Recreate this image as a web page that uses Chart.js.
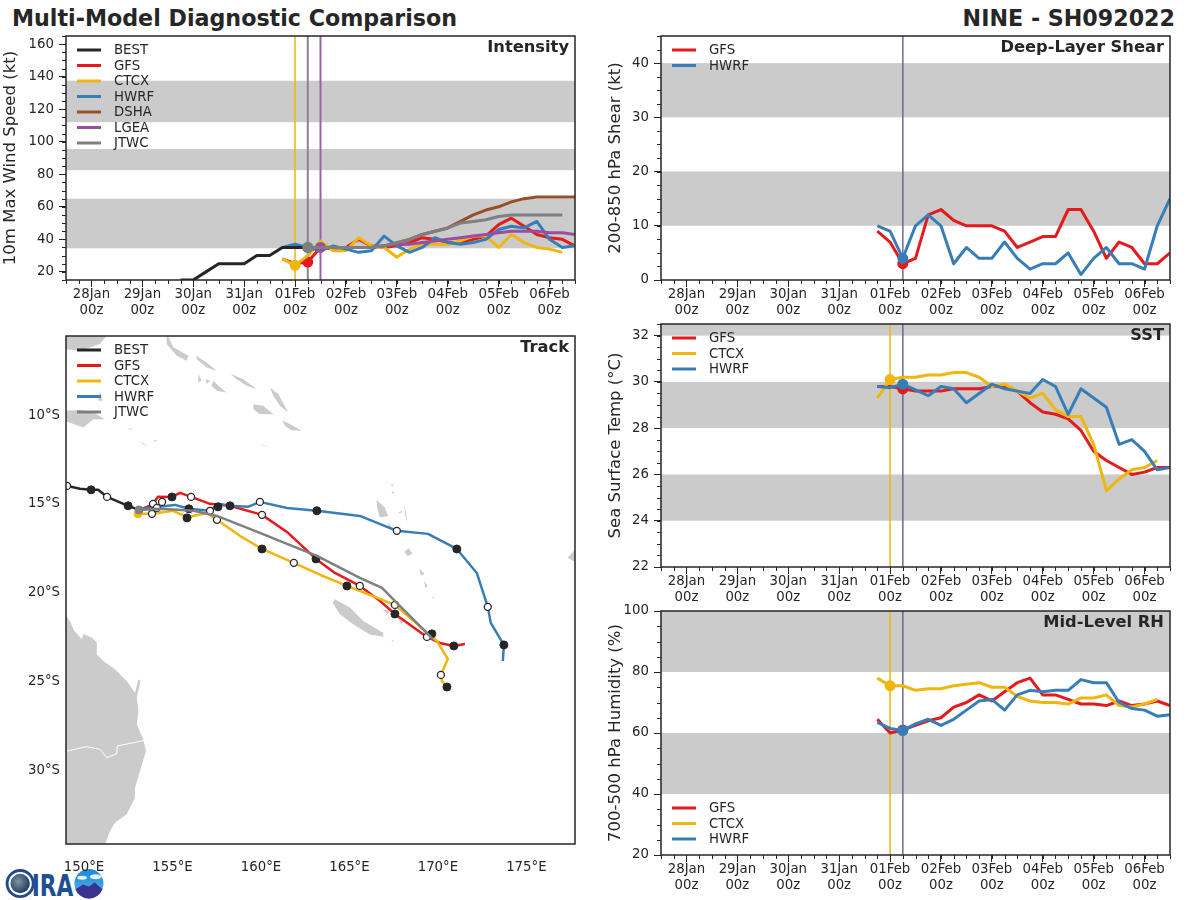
<!DOCTYPE html>
<html>
<head>
<meta charset="utf-8">
<title>Multi-Model Diagnostic Comparison</title>
<script src="https://cdn.jsdelivr.net/npm/chart.js@4/dist/chart.umd.min.js"></script>
<style>
    html, body { margin: 0; padding: 0; background: #fff; }
    body { position: relative; width: 1200px; height: 900px; overflow: hidden; font-family: "DejaVu Sans", sans-serif; color: #262626; }
    canvas { position: absolute; z-index: 1; }
    .head { position: absolute; top: 5px; font-weight: bold; font-size: 22.2px; line-height: 26px; white-space: nowrap; }
    #logo { position: absolute; left: 4px; top: 868px; z-index: 0; }
</style>
</head>
<body>
<div class="head" style="left:12px">Multi-Model Diagnostic Comparison</div>
<div class="head" style="right:25px">NINE - SH092022</div>
<canvas id="intensityChart" style="left:0;top:26px" width="590" height="296"></canvas>
<canvas id="shearChart" style="left:605px;top:26px" width="580" height="296"></canvas>
<canvas id="trackChart" style="left:0;top:326px" width="590" height="553"></canvas>
<canvas id="sstChart" style="left:605px;top:314px" width="580" height="295"></canvas>
<canvas id="rhChart" style="left:605px;top:601px" width="580" height="296"></canvas>
<svg id="logo" width="104" height="31" viewBox="0 0 104 32">
    <defs>
        <radialGradient id="globe" cx="0.4" cy="0.4" r="0.7"><stop offset="0" stop-color="#7f93a0"/><stop offset="1" stop-color="#16305f"/></radialGradient>
        <linearGradient id="sky" x1="0" y1="0" x2="0" y2="1"><stop offset="0" stop-color="#1b8ad8"/><stop offset="1" stop-color="#58b4e8"/></linearGradient>
    </defs>
    <circle cx="15" cy="16" r="13.5" fill="none" stroke="#24488c" stroke-width="3"/>
    <circle cx="15" cy="16" r="10" fill="url(#globe)"/>
    <text x="27" y="29" font-family="DejaVu Sans" font-weight="bold" font-size="31" textLength="43" lengthAdjust="spacingAndGlyphs" fill="#1d4f92">IRA</text>
    <circle cx="86" cy="16" r="15" fill="url(#sky)"/>
    <path d="M72 22 L80 17 L86 19 L92 15 L100 22 A15 15 0 0 1 72 22 Z" fill="#37338f"/>
    <ellipse cx="93" cy="9" rx="6" ry="2.5" fill="#e8f2fa"/>
    <ellipse cx="79" cy="10" rx="5" ry="2" fill="#e8f2fa"/>
</svg>

<script>
// hours since 28Jan 00z
const tickHours = [0, 24, 48, 72, 96, 120, 144, 168, 192, 216];
const tickDays = ['28Jan', '29Jan', '30Jan', '31Jan', '01Feb', '02Feb', '03Feb', '04Feb', '05Feb', '06Feb'];
const forecastHours = [90, 96, 102, 108, 114, 120, 126, 132, 138, 144, 150, 156, 162, 168, 174, 180, 186, 192, 198, 204, 210, 216, 222, 228];
const bestHours = [42, 48, 54, 60, 66, 72, 78, 84, 90, 96, 102];

// Intensity
const bestWind = [15, 15, 20, 25, 25, 25, 30, 30, 35, 35, 35];
const gfsWind = [28, 25, 26, 35, 34, 35, 40, 36, 35, 36, 38, 41, 40, 38, 38, 40, 42, 49, 53, 48, 43, 41, 40, 36];
const ctcxWind = [28, 24, 30, 39, 33, 33, 41, 36, 35, 29, 34, 37, 37, 37, 39, 42, 42, 35, 43, 38, 35, 34, 32];
const hwrfWind = [35, 37, 35, 33, 36, 34, 32, 33, 42, 36, 32, 35, 41, 38, 37, 38, 40, 46, 48, 47, 51, 40, 35, 36];
const dshaHours = [102, 108, 114, 120, 126, 132, 138, 144, 150, 156, 162, 168, 174, 180, 186, 192, 198, 204, 210, 216, 222, 228];
const dshaWind = [35, 35, 35, 35, 35, 35, 36, 38, 40, 43, 45, 47, 51, 55, 58, 60, 63, 65, 66, 66, 66, 66];
const lgeaHours = [108, 114, 120, 126, 132, 138, 144, 150, 156, 162, 168, 174, 180, 186, 192, 198, 204, 210, 216, 222, 228];
const lgeaWind = [35, 35, 35, 35, 35, 36, 37, 37, 38, 39, 40, 41, 42, 43, 44, 45, 45, 45, 44, 44, 43];
const jtwcHours = [102, 108, 114, 120, 126, 132, 138, 144, 150, 156, 162, 168, 174, 180, 186, 192, 198, 204, 210, 216, 222];
const jtwcWind = [35, 35, 35, 35, 35, 35, 36, 38, 40, 43, 45, 47, 50, 51, 52, 54, 55, 55, 55, 55, 55];

// Deep-layer shear
const gfsShear = [9, 7, 3, 4, 12, 13, 11, 10, 10, 10, 9, 6, 7, 8, 8, 13, 13, 9, 4, 7, 6, 3, 3, 5];
const hwrfShear = [10, 9, 4, 10, 12, 10, 3, 6, 4, 4, 7, 4, 2, 3, 3, 5, 1, 4, 6, 3, 3, 2, 10, 15];

// SST
const gfsSst = [29.8, 29.8, 29.7, 29.6, 29.6, 29.6, 29.7, 29.7, 29.7, 29.8, 29.8, 29.6, 29.1, 28.7, 28.6, 28.4, 27.9, 27.0, 26.6, 26.3, 26.0, 26.1, 26.3, 26.3];
const ctcxSst = [29.3, 30.1, 30.2, 30.2, 30.3, 30.3, 30.4, 30.4, 30.2, 29.8, 29.9, 29.6, 29.3, 29.5, 28.8, 28.5, 28.5, 27.3, 25.3, 25.8, 26.2, 26.3, 26.6];
const hwrfSst = [29.8, 29.75, 29.9, 29.65, 29.4, 29.8, 29.7, 29.1, 29.5, 29.9, 29.7, 29.6, 29.5, 30.1, 29.8, 28.6, 29.7, 29.3, 28.9, 27.3, 27.5, 27.0, 26.2, 26.3];

// Mid-level RH
const gfsRh = [64.5, 60, 61, 62.5, 64, 65, 68.5, 70, 72.5, 70.5, 73.5, 76.5, 78, 72.5, 72.5, 71, 69.5, 69.5, 69, 70.5, 69, 69.5, 70.5, 69];
const ctcxRh = [78, 75.5, 75.5, 74, 74.5, 74.5, 75.5, 76, 76.5, 75, 75, 72, 70.5, 70, 70, 69.5, 71.5, 71.5, 72.5, 69, 68.5, 69.5, 71];
const hwrfRh = [63.5, 61.5, 60.8, 63, 64.5, 62.5, 64.5, 67.5, 70.5, 71, 67.5, 72.5, 74, 73.5, 74, 74, 77.5, 76.5, 76.5, 70, 68, 67.5, 65.5, 66];

// Track lines, degrees east and north
const bestLon = [149.0, 149.77, 150.4, 150.8, 151.3, 152.49, 153.11];
const bestLat = [-13.98, -14.15, -14.21, -14.21, -14.61, -15.11, -15.34];
const gfsLon = [153.11, 153.56, 153.9, 154.18, 154.97, 155.42, 156.05, 157.12, 158.25, 160.06, 161.53, 163.11, 164.18, 165.59, 166.72, 167.57, 169.38, 170.11, 170.9, 171.53];
const gfsLat = [-15.34, -15.17, -15, -14.6, -14.61, -14.38, -14.61, -15, -15.11, -15.62, -16.63, -18.1, -18.89, -19.62, -20.46, -21.2, -22.49, -22.83, -23, -22.89];
const ctcxLon = [153.05, 153.84, 155.03, 155.93, 156.16, 156.95, 157.51, 158.81, 160.06, 161.86, 163.33, 164.86, 166.44, 167.57, 169.94, 170.56, 170.17, 170.23, 170.51];
const ctcxLat = [-15.56, -15.56, -15.39, -15.79, -15.68, -15.51, -15.9, -16.8, -17.54, -18.32, -18.99, -19.62, -20.24, -20.69, -22.72, -23.73, -24.63, -24.97, -25.31];
const hwrfLon = [153.11, 153.56, 155.14, 155.93, 157.12, 157.57, 158.25, 159.27, 159.94, 161.47, 163.16, 165.59, 167.68, 169.44, 171.07, 172.2, 172.82, 172.99, 173.73, 173.67];
const hwrfLat = [-15.34, -15.23, -15.06, -15.28, -15.39, -15, -15.11, -15.17, -14.89, -15.23, -15.39, -15.68, -16.52, -16.69, -17.54, -18.89, -20.8, -21.7, -22.94, -23.85];
const jtwcLon = [153.11, 154.33, 156.2, 157.51, 159.94, 161.47, 163.16, 165.59, 166.84, 167.68, 169.72];
const jtwcLat = [-15.34, -15.28, -15.39, -15.68, -16.63, -17.25, -17.93, -19.17, -19.73, -20.58, -22.61];

// Track markers: 00z filled, 12z open
const filledLon = [150.4, 152.49, 154.97, 155.93, 155.82, 157.57, 158.25, 160.06, 163.16, 163.11, 164.86, 167.57, 169.66, 171.07, 170.9, 173.73, 170.51];
const filledLat = [-14.21, -15.11, -14.61, -15.28, -15.79, -15.17, -15.11, -17.54, -15.39, -18.1, -19.62, -21.2, -22.32, -17.54, -23, -22.94, -25.31];
const openLon = [149.04, 151.3, 153.9, 154.12, 154.41, 153.84, 156.05, 157.12, 157.51, 159.94, 160.06, 161.86, 165.59, 167.68, 167.57, 169.38, 170.17, 172.82];
const openLat = [-13.99, -14.61, -15, -15.23, -14.89, -15.56, -14.61, -15.39, -15.9, -14.89, -15.62, -18.32, -19.62, -16.52, -20.69, -22.49, -24.63, -20.8];

// Land outlines, [lon, lat]
const landShapes = [
    [[148.9, -21.31], [149.02, -21.31], [149.25, -21.69], [149.44, -22.15], [149.87, -22.62], [149.96, -22.33], [150.43, -22.53], [150.72, -22.81], [150.72, -23.47], [151.09, -23.85], [151.75, -24.31], [152.41, -24.97], [152.88, -25.63], [153.07, -24.88], [153.2, -24.97], [152.98, -25.91], [153.07, -26.66], [152.98, -27.41], [153.35, -28.26], [153.5, -28.92], [153.16, -30.04], [152.88, -30.98], [152.88, -31.54], [152.41, -32.48], [151.75, -32.95], [151.47, -33.42], [151.13, -34.3], [148.9, -34.3]],
    [[164.18, -20.37], [165.03, -20.84], [165.78, -21.59], [166.91, -22.25], [166.91, -22.48], [166.15, -22.35], [165.21, -21.78], [164.46, -21.22], [164.05, -20.56]],
    [[166.54, -14.79], [167, -15.21], [167.19, -15.68], [166.72, -15.77], [166.57, -15.21]],
    [[167.36, -13.85], [167.5, -13.95], [167.4, -14.02]],
    [[167.38, -14.3], [167.55, -14.36], [167.42, -14.44]],
    [[168.1, -15], [168.2, -15.5], [168.28, -16.05], [168.14, -15.6]],
    [[167.7, -15.55], [167.95, -15.38], [167.95, -15.5]],
    [[167.19, -16.05], [167.47, -16.43], [167.2, -16.3]],
    [[168.1, -17.7], [168.35, -17.5], [168.55, -17.8], [168.3, -17.95]],
    [[168.95, -18.65], [169.25, -18.95], [169.05, -19.05]],
    [[169.22, -19.35], [169.42, -19.6], [169.3, -19.75]],
    [[169.66, -20.22], [169.8, -20.26], [169.72, -20.33]],
    [[167.38, -22.66], [167.5, -22.7], [167.42, -22.78]],
    [[166.85, -20.9], [167.3, -21.05], [167.15, -21.2]],
    [[167.75, -21.45], [168.1, -21.5], [167.95, -21.8]],
    [[177.34, -18.04], [177.9, -17.4], [177.9, -18.35]],
    [[148.93, -5.4], [151.37, -5.4], [150.9, -6], [149.77, -6.38], [148.93, -6.29]],
    [[154.67, -5.4], [155.05, -6.19], [155.9, -6.66], [155.8, -6.94], [155.24, -6.66], [154.67, -6]],
    [[156.33, -6.66], [156.93, -7.04], [157.5, -7.51], [156.93, -7.32], [156.37, -6.85]],
    [[158.25, -7.66], [159, -7.98], [159.75, -8.54], [159.19, -8.35], [158.63, -7.98]],
    [[156.46, -7.7], [156.65, -8.07], [156.46, -8.17]],
    [[156.89, -7.98], [157.12, -8.07], [156.93, -8.26]],
    [[157.31, -8.07], [157.59, -8.35], [158.06, -8.73], [157.5, -8.63], [157.21, -8.35]],
    [[160.5, -8.45], [160.98, -8.82], [161.54, -9.85], [161.07, -9.48], [160.7, -8.92]],
    [[159.57, -9.39], [160.13, -9.48], [160.7, -9.95], [159.94, -9.95], [159.57, -9.67]],
    [[161.22, -10.29], [161.83, -10.61], [162.3, -10.89], [161.73, -10.85], [161.36, -10.61]],
    [[148.9, -9.76], [149.77, -9.72], [150.53, -9.85], [151.19, -10.23], [150.53, -10.23], [149.96, -10.7], [149.4, -10.51], [148.9, -10.32]],
    [[150.9, -8.63], [151.05, -9.2], [150.81, -9.2]],
    [[153.07, -11.45], [153.63, -11.73], [153.35, -11.64]],
    [[153.92, -11.41], [154.2, -11.45], [154.01, -11.51]],
    [[159.94, -11.6], [160.5, -11.86], [160.13, -11.73]],
    [[152.41, -10.74], [152.79, -10.79], [152.6, -10.83]]
];
const borderLine = [[149.02, -28.92], [150.15, -28.67], [150.9, -28.82], [151.28, -29.29], [151.85, -29.07], [151.88, -28.63], [152.79, -28.45], [153.45, -28.31]];

const INK = '#262626';
const BAND = '#cbcbcb';
const BLACK = '#262626', RED = '#e41a1c', GOLD = '#efb60e', BLUE = '#377eb8', BROWN = '#964f28', PURPLE = '#984ea3', GRAY = '#7f7f7f';

Chart.defaults.font.family = '"DejaVu Sans", sans-serif';
Chart.defaults.font.size = 13.3;
Chart.defaults.color = INK;

const panelPlugin = {
    id: 'panel',
    beforeDatasetsDraw(chart, args, o) {
        const { ctx, chartArea: a, scales: { x, y } } = chart;
        ctx.save();
        ctx.beginPath();
        ctx.rect(a.left, a.top, a.width, a.height);
        ctx.clip();
        ctx.fillStyle = BAND;
        (o.bands || []).forEach(b => {
            const top = y.getPixelForValue(b[1]);
            ctx.fillRect(a.left, top, a.width, y.getPixelForValue(b[0]) - top);
        });
        (o.land || []).forEach(shape => {
            ctx.beginPath();
            shape.forEach((p, i) => ctx[i ? 'lineTo' : 'moveTo'](x.getPixelForValue(p[0]), y.getPixelForValue(p[1])));
            ctx.closePath();
            ctx.fill();
        });
        if (o.border) {
            ctx.strokeStyle = '#fff';
            ctx.lineWidth = 1;
            ctx.beginPath();
            o.border.forEach((p, i) => ctx[i ? 'lineTo' : 'moveTo'](x.getPixelForValue(p[0]), y.getPixelForValue(p[1])));
            ctx.stroke();
        }
        ctx.restore();
    },
    afterDraw(chart, args, o) {
        const { ctx, chartArea: a, scales: { x, y } } = chart;
        ctx.save();
        ctx.strokeStyle = INK;
        // minor ticks
        ctx.lineWidth = 1;
        ctx.beginPath();
        if (o.minorX) {
            for (let v = x.min; v <= x.max; v += o.minorX) {
                const px = Math.round(x.getPixelForValue(v)) + 0.5;
                ctx.moveTo(px, a.bottom);
                ctx.lineTo(px, a.bottom + 4);
            }
        }
        if (o.minorY) {
            for (let v = Math.ceil(y.min / o.minorY) * o.minorY; v <= y.max; v += o.minorY) {
                const py = Math.round(y.getPixelForValue(v)) + 0.5;
                ctx.moveTo(a.left, py);
                ctx.lineTo(a.left - 4, py);
            }
        }
        ctx.stroke();
        // frame
        ctx.lineWidth = 1.5;
        ctx.strokeRect(a.left, a.top, a.width, a.height);
        // panel name
        ctx.fillStyle = INK;
        ctx.textAlign = 'right';
        ctx.textBaseline = 'middle';
        ctx.font = 'bold 16.3px "DejaVu Sans"';
        ctx.fillText(o.name, a.right - 6, a.top + 12);
        // legend
        ctx.font = '13.3px "DejaVu Sans"';
        ctx.textAlign = 'left';
        const first = o.legendBottom ? a.bottom - 47 : a.top + 14;
        o.legend.forEach((item, i) => {
            const rowY = first + i * 15.5;
            ctx.strokeStyle = item[1];
            ctx.lineWidth = 3;
            ctx.beginPath();
            ctx.moveTo(a.left + 11, rowY);
            ctx.lineTo(a.left + 35, rowY);
            ctx.stroke();
            ctx.fillStyle = INK;
            ctx.fillText(item[0], a.left + 48, rowY + 1);
        });
        ctx.restore();
    }
};

function xy(xs, ys) {
    return ys.map((v, i) => ({ x: xs[i], y: v }));
}

// model line with a dot at its start hour
function modelLine(hours, values, color, startHour) {
    return {
        data: xy(hours, values),
        showLine: true,
        borderColor: color,
        backgroundColor: color,
        borderWidth: 3,
        borderJoinStyle: 'round',
        pointRadius: c => (c.parsed.x === startHour ? 4 : 0),
        pointHoverRadius: 0
    };
}

function startLine(hour, color, width, yMin, yMax) {
    return {
        data: xy([hour, hour], [yMin, yMax]),
        showLine: true,
        borderColor: color,
        borderWidth: width,
        pointRadius: 0
    };
}

// GFS and HWRF both start at the same hour, the lines mix
function mixedStart(yMin, yMax) {
    return [
        startLine(102, 'rgba(228,26,28,0.6)', 1.5, yMin, yMax),
        startLine(102, 'rgba(55,126,184,0.7)', 1.5, yMin, yMax)
    ];
}

// stop the label overhang from moving the plot area
function fitY(width) {
    return s => { s.width = width; s.paddingTop = 0; s.paddingBottom = 0; };
}
function fitX(height) {
    return s => { s.height = height; s.paddingLeft = 0; s.paddingRight = 0; };
}

function seriesChart(id, cfg) {
    const yTicks = cfg.yTicks;
    const datasets = cfg.datasets.map((d, i) => Object.assign({ order: -i }, d));
    return new Chart(document.getElementById(id), {
        type: 'scatter',
        data: { datasets },
        options: {
            responsive: false,
            animation: false,
            layout: { padding: { top: 10, right: 15, bottom: 0, left: 0 } },
            plugins: {
                legend: { display: false },
                tooltip: { enabled: false },
                panel: cfg.panel
            },
            scales: {
                x: {
                    type: 'linear',
                    min: -12,
                    max: 228,
                    afterBuildTicks: s => { s.ticks = tickHours.map(v => ({ value: v })); },
                    afterFit: fitX(42),
                    border: { display: false },
                    grid: { drawOnChartArea: false, tickLength: 7, tickColor: INK },
                    ticks: {
                        autoSkip: false,
                        maxRotation: 0,
                        padding: 0,
                        callback: v => [tickDays[tickHours.indexOf(v)], '00z']
                    }
                },
                y: {
                    min: cfg.yMin,
                    max: cfg.yMax,
                    afterBuildTicks: s => { s.ticks = yTicks.map(v => ({ value: v })); },
                    afterFit: fitY(cfg.yWidth || 56),
                    border: { display: false },
                    grid: { drawOnChartArea: false, tickLength: 7, tickColor: INK },
                    ticks: { padding: 5, callback: v => String(v) },
                    title: { display: true, text: cfg.yTitle, font: { size: 16.5 }, color: INK, padding: { top: 1, bottom: 0 } }
                }
            }
        },
        plugins: [panelPlugin]
    });
}

// Intensity
const windYTicks = [20, 40, 60, 80, 100, 120, 140, 160];
const windBands = [[34.5, 65], [82.5, 95.5], [112, 137.5]];
seriesChart('intensityChart', {
    yMin: 15, yMax: 165, yTicks: windYTicks, yWidth: 66,
    yTitle: '10m Max Wind Speed (kt)',
    panel: {
        name: 'Intensity', bands: windBands, minorX: 6, minorY: 5,
        legend: [['BEST', BLACK], ['GFS', RED], ['CTCX', GOLD], ['HWRF', BLUE], ['DSHA', BROWN], ['LGEA', PURPLE], ['JTWC', GRAY]]
    },
    datasets: [
        startLine(96, GOLD, 1.5, 15, 165),
        startLine(102, '#8c8590', 2, 15, 165),
        startLine(108, '#9a62a8', 2, 15, 165),
        modelLine(forecastHours, gfsWind, RED, 102),
        modelLine(forecastHours, ctcxWind, GOLD, 96),
        modelLine(forecastHours, hwrfWind, BLUE, 102),
        modelLine(dshaHours, dshaWind, BROWN, -1),
        modelLine(bestHours, bestWind, BLACK, -1),
        modelLine(lgeaHours, lgeaWind, PURPLE, 108),
        modelLine(jtwcHours, jtwcWind, GRAY, 102)
    ]
});

// Deep-layer shear
seriesChart('shearChart', {
    yMin: 0, yMax: 45, yTicks: [0, 10, 20, 30, 40],
    yTitle: '200-850 hPa Shear (kt)',
    panel: {
        name: 'Deep-Layer Shear', bands: [[10, 20], [30, 40]], minorX: 6, minorY: 2.5,
        legend: [['GFS', RED], ['HWRF', BLUE]]
    },
    datasets: [
        ...mixedStart(0, 45),
        modelLine(forecastHours, gfsShear, RED, 102),
        modelLine(forecastHours, hwrfShear, BLUE, 102)
    ]
});

// SST
seriesChart('sstChart', {
    yMin: 22, yMax: 32.5, yTicks: [22, 24, 26, 28, 30, 32],
    yTitle: 'Sea Surface Temp (°C)',
    panel: {
        name: 'SST', bands: [[24, 26], [28, 30], [32, 32.5]], minorX: 6, minorY: 0.5,
        legend: [['GFS', RED], ['CTCX', GOLD], ['HWRF', BLUE]]
    },
    datasets: [
        startLine(96, GOLD, 1.5, 22, 32.5),
        ...mixedStart(22, 32.5),
        modelLine(forecastHours, gfsSst, RED, 102),
        modelLine(forecastHours, ctcxSst, GOLD, 96),
        modelLine(forecastHours, hwrfSst, BLUE, 102)
    ]
});

// Mid-level RH
seriesChart('rhChart', {
    yMin: 20, yMax: 100, yTicks: [20, 40, 60, 80, 100],
    yTitle: '700-500 hPa Humidity (%)',
    panel: {
        name: 'Mid-Level RH', bands: [[40, 60], [80, 100]], minorX: 6, minorY: 5, legendBottom: true,
        legend: [['GFS', RED], ['CTCX', GOLD], ['HWRF', BLUE]]
    },
    datasets: [
        startLine(96, GOLD, 1.5, 20, 100),
        ...mixedStart(20, 100),
        modelLine(forecastHours, gfsRh, RED, 102),
        modelLine(forecastHours, ctcxRh, GOLD, 96),
        modelLine(forecastHours, hwrfRh, BLUE, 102)
    ]
});

// Track map
function trackLine(lon, lat, color, width) {
    return {
        data: xy(lon, lat),
        showLine: true,
        borderColor: color,
        backgroundColor: color,
        borderWidth: width,
        borderJoinStyle: 'round',
        pointRadius: 0
    };
}

const lonTicks = [150, 155, 160, 165, 170, 175];
const latTicks = [-30, -25, -20, -15, -10];
new Chart(document.getElementById('trackChart'), {
    type: 'scatter',
    data: {
        datasets: [
            trackLine(bestLon, bestLat, BLACK, 2.5),
            trackLine(gfsLon, gfsLat, RED, 2.5),
            trackLine(ctcxLon, ctcxLat, GOLD, 2.5),
            trackLine(hwrfLon, hwrfLat, BLUE, 2.5),
            { data: xy([153.05], [-15.56]), backgroundColor: GOLD, borderColor: GOLD, pointRadius: 4 },
            { data: xy(filledLon, filledLat), backgroundColor: BLACK, borderColor: BLACK, pointRadius: 4, borderWidth: 1 },
            { data: xy(openLon, openLat), backgroundColor: '#fff', borderColor: BLACK, pointRadius: 3.5, borderWidth: 1.3 },
            trackLine(jtwcLon, jtwcLat, GRAY, 2.5),
            { data: xy([153.11], [-15.34]), backgroundColor: GRAY, borderColor: GRAY, pointRadius: 4 }
        ].map((d, i) => Object.assign({ order: -i }, d))
    },
    options: {
        responsive: false,
        animation: false,
        layout: { padding: { top: 10, right: 15, bottom: 0, left: 0 } },
        plugins: {
            legend: { display: false },
            tooltip: { enabled: false },
            panel: {
                name: 'Track',
                land: landShapes,
                border: borderLine,
                legend: [['BEST', BLACK], ['GFS', RED], ['CTCX', GOLD], ['HWRF', BLUE], ['JTWC', GRAY]]
            }
        },
        scales: {
            x: {
                type: 'linear',
                min: 148.98,
                max: 177.75,
                afterBuildTicks: s => { s.ticks = lonTicks.map(v => ({ value: v })); },
                afterFit: fitX(35),
                border: { display: false },
                grid: { display: false, drawTicks: false },
                ticks: { padding: 16, maxRotation: 0, autoSkip: false, callback: v => v + '°E' }
            },
            y: {
                min: -34.15,
                max: -5.55,
                afterBuildTicks: s => { s.ticks = latTicks.map(v => ({ value: v })); },
                afterFit: fitY(66),
                border: { display: false },
                grid: { display: false, drawTicks: false },
                ticks: { padding: 6, callback: v => Math.abs(v) + '°S' }
            }
        }
    },
    plugins: [panelPlugin]
});
</script>
</body>
</html>
